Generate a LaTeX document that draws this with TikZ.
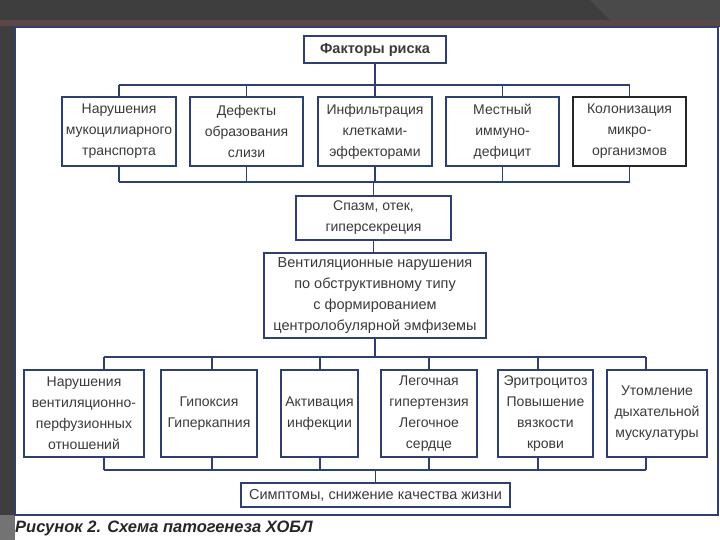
\documentclass[tikz,border=0pt]{standalone}
\usepackage{fontspec}
\setmainfont{Liberation Sans}
\definecolor{bgdark}{HTML}{3E3E3E}
\definecolor{bglite}{HTML}{4A4A4A}
\definecolor{navy}{HTML}{2E3F70}
\definecolor{txt}{HTML}{3A3A3A}
\definecolor{topline}{HTML}{5A4848}
\begin{document}
\begin{tikzpicture}[x=1pt,y=-1pt,
  box/.style={draw=navy,line width=1.6pt,fill=white,text=txt,align=center,
    inner sep=1pt,font=\fontsize{14}{21}\selectfont},
  conn/.style={draw=navy,line width=1.6pt}]
\useasboundingbox (0,0) rectangle (720,540);
% background
\fill[bgdark] (0,0) rectangle (720,540);
\fill[bglite] (590,0) -- (720,0) -- (720,22) -- (612,22) -- cycle;
\fill[topline] (0,20) rectangle (720,26);
\fill[white] (15,27) rectangle (720,540);
\fill[black!55] (0,515) rectangle (15,540);
\draw[navy,line width=1.6pt] (15,27) rectangle (718,515);
% title
\node[box,minimum width=142pt,minimum height=27pt,font=\bfseries\fontsize{14.5}{16}\selectfont] (fr) at (375,49.5) {Факторы риска};
% row 1
\node[box,minimum width=114pt,minimum height=69pt] (a1) at (119,131.5) {Нарушения\\мукоцилиарного\\транспорта};
\node[box,minimum width=113pt,minimum height=69pt] (a2) at (246.5,131.5) {Дефекты\\образования\\слизи};
\node[box,minimum width=114pt,minimum height=69pt] (a3) at (375,131.5) {Инфильтрация\\клетками-\\эффекторами};
\node[box,minimum width=113pt,minimum height=69pt] (a4) at (502.5,131.5) {Местный\\иммуно-\\дефицит};
\node[box,draw=black!85,minimum width=113pt,minimum height=69pt] (a5) at (629.5,131.5) {Колонизация\\микро-\\организмов};
% middle
\node[box,minimum width=155pt,minimum height=44pt] (sp) at (373.5,218) {Спазм, отек,\\гиперсекреция};
\node[box,minimum width=222pt,minimum height=85pt,font=\fontsize{14.5}{21}\selectfont] (vn) at (375,295.5) {Вентиляционные нарушения\\по обструктивному типу\\с формированием\\центролобулярной эмфиземы};
% row 2
\node[box,minimum width=120pt,minimum height=87pt] (b1) at (84,413.5) {Нарушения\\вентиляционно-\\перфузионных\\отношений};
\node[box,minimum width=96pt,minimum height=87pt] (b2) at (209,413.5) {Гипоксия\\Гиперкапния};
\node[box,minimum width=77pt,minimum height=87pt] (b3) at (319.5,413.5) {Активация\\инфекции};
\node[box,minimum width=96pt,minimum height=87pt] (b4) at (429,413.5) {Легочная\\гипертензия\\Легочное\\сердце};
\node[box,minimum width=95pt,minimum height=87pt] (b5) at (545.5,413.5) {Эритроцитоз\\Повышение\\вязкости\\крови};
\node[box,minimum width=100pt,minimum height=87pt] (b6) at (657,413.5) {Утомление\\дыхательной\\мускулатуры};
\node[box,minimum width=269pt,minimum height=24pt,font=\fontsize{14.5}{16}\selectfont] (sy) at (375.5,495) {Симптомы, снижение качества жизни};
% caption
\node[anchor=west,inner sep=0pt,text=black!85,font=\bfseries\itshape\fontsize{16.5}{18}\selectfont] (cap) at (15,528) {Рисунок 2. Схема патогенеза ХОБЛ};
% bus coordinates
\coordinate (u1) at (119,85);
\coordinate (u5) at (630,85);
\coordinate (l1) at (119,182);
\coordinate (l5) at (630,182);
\coordinate (p1) at (104,357);
\coordinate (p2) at (212,357);
\coordinate (p3) at (320,357);
\coordinate (p4) at (429,357);
\coordinate (p5) at (538,357);
\coordinate (p6) at (646,357);
\coordinate (q1) at (104,470);
\coordinate (q2) at (212,470);
\coordinate (q3) at (320,470);
\coordinate (q4) at (429,470);
\coordinate (q5) at (538,470);
\coordinate (q6) at (646,470);
% connectors top
\draw[conn] (fr.south) -- (fr.south |- u1);
\draw[conn] (u1) -- (u5);
\foreach \n in {a1,a2,a3,a4,a5} {\draw[conn] (\n.north) -- (\n.north |- u1);}
\foreach \n in {a1,a2,a3,a4,a5} {\draw[conn] (\n.south) -- (\n.south |- l1);}
\draw[conn] (l1) -- (l5);
\draw[conn] (sp.north |- l1) -- (sp.north);
\draw[conn] (sp.south) -- (sp.south |- vn.north);
\draw[conn] (vn.south) -- (vn.south |- p1);
\draw[conn] (p1) -- (p6);
\draw[conn] (p1) -- (p1 |- b1.north);
\draw[conn] (p2) -- (p2 |- b2.north);
\draw[conn] (p3) -- (p3 |- b3.north);
\draw[conn] (p4) -- (p4 |- b4.north);
\draw[conn] (p5) -- (p5 |- b5.north);
\draw[conn] (p6) -- (p6 |- b6.north);
\draw[conn] (q1) -- (q6);
\draw[conn] (q1) -- (q1 |- b1.south);
\draw[conn] (q2) -- (q2 |- b2.south);
\draw[conn] (q3) -- (q3 |- b3.south);
\draw[conn] (q4) -- (q4 |- b4.south);
\draw[conn] (q5) -- (q5 |- b5.south);
\draw[conn] (q6) -- (q6 |- b6.south);
\draw[conn] (sy.north |- q1) -- (sy.north);
\end{tikzpicture}
\end{document}
